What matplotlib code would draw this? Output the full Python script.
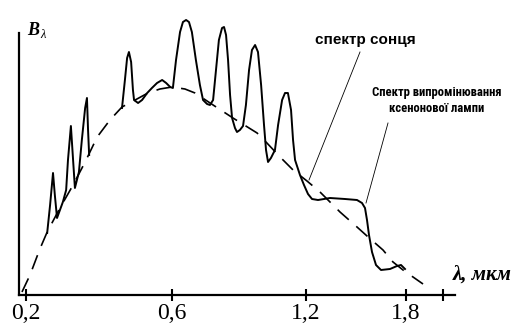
import numpy as np
import matplotlib
matplotlib.use("Agg")
import matplotlib.pyplot as plt
from matplotlib import font_manager as fm
from matplotlib.ft2font import FT2Font

# ---------------- data ----------------
# hand-drawn wavelength axis: tick wavelengths and their relative drawing positions
axis_lam = [0.0, 0.2, 0.6, 1.2, 1.8, 2.0, 3.0]
axis_pos = [-47, 26, 172, 306, 406, 443, 628]

tick_values = [0.2, 0.6, 1.2, 1.8, 2.0]
tick_labels = ["0,2", "0,6", "1,2", "1,8", ""]

# xenon lamp spectrum (dashed, smooth)
lamp_lam = [0.189, 0.211, 0.238, 0.258, 0.293, 0.329, 0.362, 0.395, 0.430, 0.463,
            0.499, 0.534, 0.567, 0.600, 0.658, 0.703, 0.784, 0.873, 0.981, 1.025,
            1.084, 1.142, 1.206, 1.284, 1.404, 1.506, 1.566, 1.662, 1.722, 1.782, 1.892]
lamp_B = [3, 20, 46, 63, 87, 110, 133, 158, 175, 188,
          195, 202, 206, 208, 206, 202, 190, 177, 162, 152,
          138, 125, 114, 103, 83, 68, 59, 45, 33, 25, 11]

# solar spectrum, part 1 (UV spikes)
sun1_lam = [0.258, 0.266, 0.274, 0.279, 0.285, 0.293, 0.301, 0.310, 0.315, 0.323,
            0.329, 0.334, 0.345, 0.353, 0.362, 0.367, 0.370, 0.373]
sun1_B = [62, 90, 122, 100, 77, 85, 93, 105, 135, 169,
          135, 107, 123, 155, 187, 197, 165, 140]

# solar spectrum, part 2
sun2_lam = [0.463, 0.471, 0.477, 0.482, 0.488, 0.493, 0.496, 0.507, 0.518, 0.532,
            0.545, 0.559, 0.573, 0.584, 0.595, 0.604, 0.618, 0.636, 0.649, 0.663,
            0.676, 0.689, 0.707, 0.725, 0.739, 0.757, 0.770, 0.784, 0.797, 0.810,
            0.824, 0.833, 0.842, 0.851, 0.860, 0.869, 0.882, 0.891, 0.904, 0.918,
            0.931, 0.945, 0.958, 0.972, 0.985, 0.999, 1.012, 1.021, 1.030, 1.043,
            1.061, 1.075, 1.093, 1.106, 1.119, 1.133, 1.142, 1.151, 1.173, 1.191,
            1.212, 1.236, 1.272, 1.344, 1.434, 1.506, 1.536, 1.554, 1.566, 1.578,
            1.596, 1.620, 1.650, 1.704, 1.746, 1.770, 1.794]
sun2_B = [187, 215, 237, 243, 233, 205, 195, 192, 195, 202,
          207, 212, 215, 212, 208, 207, 235, 263, 273, 275,
          273, 263, 235, 210, 195, 191, 190, 195, 225, 255,
          267, 268, 260, 235, 200, 177, 167, 163, 165, 169,
          190, 225, 245, 250, 243, 210, 170, 145, 133, 137,
          145, 170, 195, 202, 202, 185, 155, 135, 120, 110,
          101, 96, 95, 97, 96, 95, 92, 87, 75, 60,
          43, 30, 25, 26, 29, 30, 26]

axis_top_B = 262
lamp_text = "Спектр випромінювання\nксенонової лампи"
sun_text = "спектр сонця"

# ---------------- fonts ----------------
def find_condensed_bold(text):
    need = {ord(c) for c in text if not c.isspace()}
    best, best_score = None, -1
    for f in fm.fontManager.ttflist:
        fn = f.fname.split("/")[-1]
        cond = ("Narrow" in f.name or "Condensed" in f.name or "Condensed" in fn
                or "Narrow" in fn or str(f.stretch) in ("condensed", "semi-condensed"))
        if not cond or "Italic" in fn or f.style != "normal":
            continue
        if "Bold" not in fn or "ExtraBold" in fn or "SemiBold" in fn:
            continue
        if "SemiCondensed" in fn or "Semi" in fn:
            continue
        try:
            cmap = FT2Font(f.fname).get_charmap()
        except Exception:
            continue
        if not need.issubset(cmap):
            continue
        score = 1
        for pref, s in (("Liberation Sans Narrow", 10), ("Arial", 9), ("Roboto", 8),
                        ("Noto Sans", 7), ("Open Sans", 6), ("DejaVu Sans", 5)):
            if f.name.startswith(pref):
                score = s
                break
        if score > best_score:
            best, best_score = f, score
    return best

cf = find_condensed_bold(lamp_text)
if cf is not None:
    cond_props = dict(fontproperties=fm.FontProperties(fname=cf.fname, size=9.1))
else:
    cond_props = dict(fontfamily="Liberation Sans", fontweight="bold", fontsize=7.5)

# ---------------- figure ----------------
W, H = 526, 336
fig = plt.figure(figsize=(W / 100, H / 100), dpi=100)
ax = fig.add_axes([19 / W, (H - 295) / H, (455 - 19) / W, (295 - 5) / H])

fwd = lambda x: np.interp(x, axis_lam, axis_pos)
inv = lambda p: np.interp(p, axis_pos, axis_lam)
ax.set_xscale("function", functions=(fwd, inv))
ax.set_xlim(inv(19), inv(455))
ax.set_ylim(0, 290)

ax.plot(lamp_lam, lamp_B, color="black", lw=1.2, linestyle=(0, (9, 6)))
ax.plot(sun1_lam, sun1_B, color="black", lw=1.4)
ax.plot(sun2_lam, sun2_B, color="black", lw=1.4)

for s in ["top", "right"]:
    ax.spines[s].set_visible(False)
for s in ["left", "bottom"]:
    ax.spines[s].set_linewidth(1.6)
ax.spines["left"].set_bounds(0, axis_top_B)

ax.set_xticks(tick_values)
ax.set_xticklabels(tick_labels, fontfamily="Liberation Serif", fontsize=17)
ax.tick_params(axis="x", direction="inout", length=8, width=1.5, pad=2)
ax.set_yticks([])
ax.xaxis.set_minor_locator(matplotlib.ticker.NullLocator())

# axis labels
fig.text(27 / W, 1 - 35 / H, "B", fontsize=13, ha="left", va="baseline",
         fontfamily="Liberation Serif", fontweight="bold", fontstyle="italic")
fig.text(40 / W, 1 - 38 / H, "λ", fontsize=9, ha="left", va="baseline",
         fontfamily="Liberation Serif", fontstyle="italic")
fig.text(453 / W, 1 - 275 / H, "λ, мкм", fontsize=15, ha="left", va="center",
         fontfamily="Liberation Serif", fontweight="bold", fontstyle="italic")

# annotations
fig.text(365 / W, 1 - 40 / H, sun_text, fontsize=11, ha="center", va="center",
         fontfamily="Liberation Sans", fontweight="bold")
fig.text(437 / W, 1 - 100 / H, lamp_text,
         ha="center", va="center", linespacing=1.3, **cond_props)

# leader lines (figure pixel coords)
fig.add_artist(plt.Line2D([360 / W, 309 / W], [1 - 52 / H, 1 - 180 / H], color="black", lw=0.6))
fig.add_artist(plt.Line2D([388 / W, 366 / W], [1 - 123 / H, 1 - 203 / H], color="black", lw=0.6))

fig.savefig("out.png", dpi=100)
